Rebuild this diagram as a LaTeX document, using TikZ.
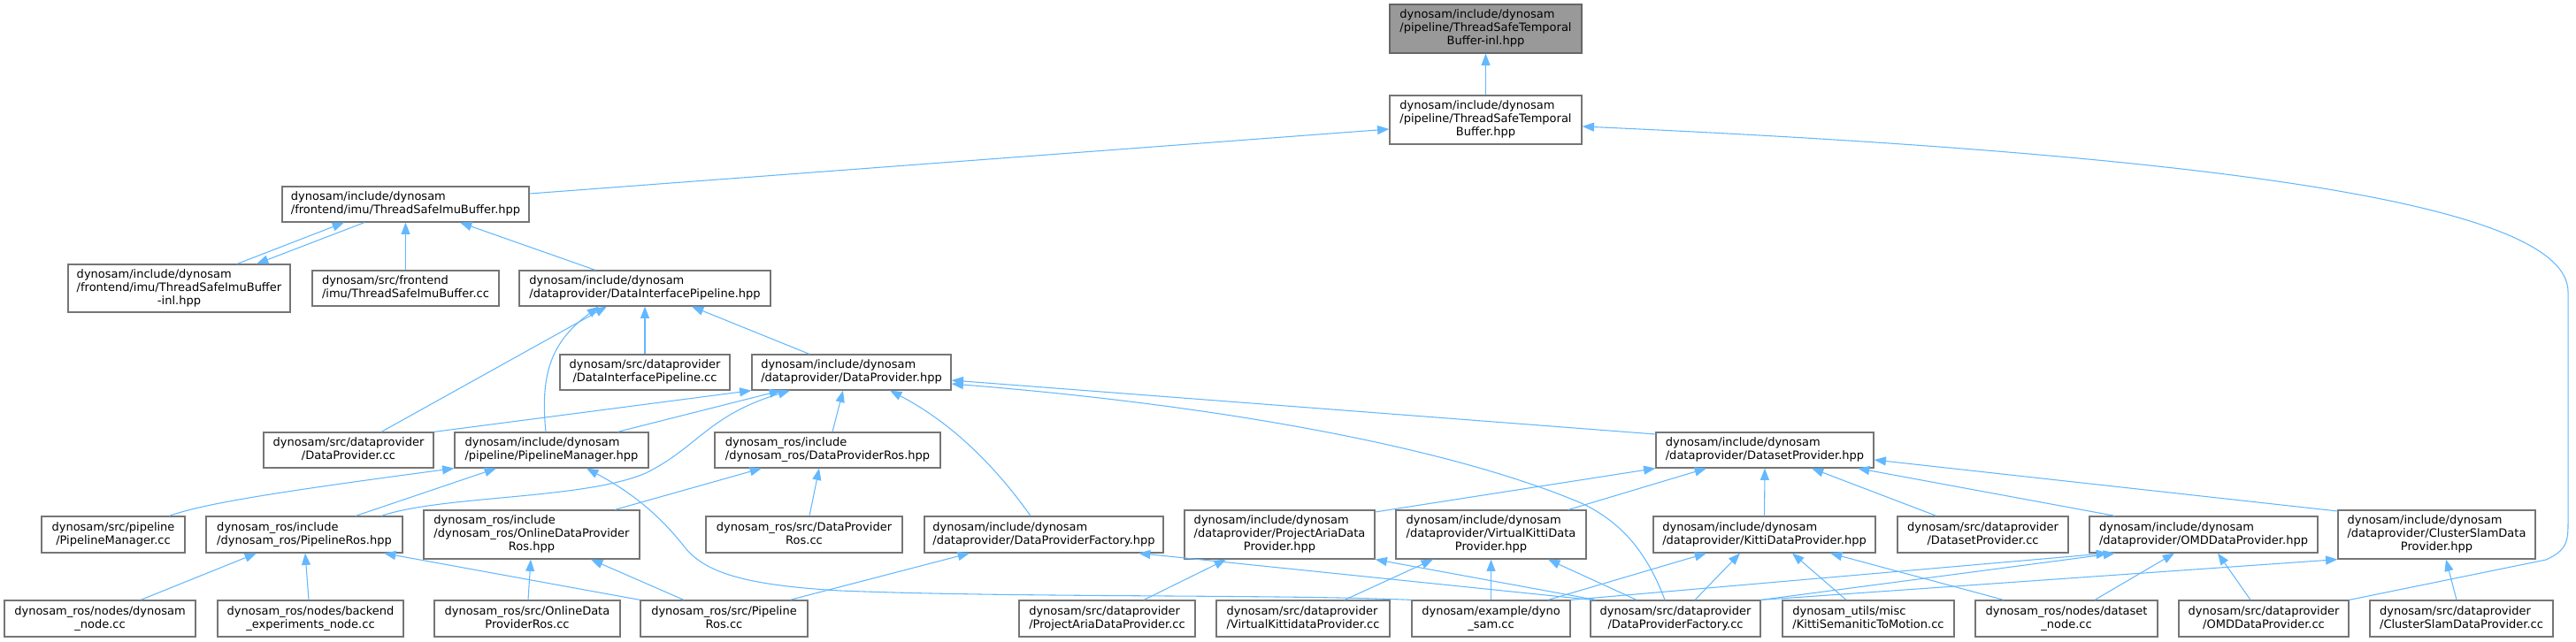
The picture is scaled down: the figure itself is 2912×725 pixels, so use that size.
\documentclass[tikz,border=0pt]{standalone}
\usepackage{fontspec}
\setmainfont{DejaVu Sans}
\usetikzlibrary{arrows.meta,calc}
\definecolor{edgeblue}{HTML}{63B8FF}
\definecolor{boxline}{HTML}{757575}
\definecolor{rootfill}{HTML}{999999}
\newcommand{\dlbl}[2]{\begin{tabular}{@{}l@{}}#1\\\multicolumn{1}{@{}c@{}}{#2}\end{tabular}}
\begin{document}
\begin{tikzpicture}[x=0.75pt,y=-0.75pt,
 box/.style={draw=boxline, line width=0.9pt, fill=white, inner sep=0pt, font=\fontsize{9.75}{11.25}\selectfont, text=black},
 fb/.style 2 args={box, minimum width=#1*0.75pt, minimum height=#2*0.75pt},
 edge/.style={draw=edgeblue, line width=0.8pt, -{Triangle[length=10pt,width=7.5pt]}}
]
\useasboundingbox (0,0) rectangle (2912,725);

% nodes
\node[fb={217}{55}, fill=rootfill, draw=black!60] (root) at (1679.5,32.5) {\dlbl{dynosam/include/dynosam\\/pipeline/ThreadSafeTemporal}{Buffer-inl.hpp}};
\node[fb={217}{55}] (tstb) at (1679.5,135.5) {\dlbl{dynosam/include/dynosam\\/pipeline/ThreadSafeTemporal}{Buffer.hpp}};
\node[fb={279}{40}] (tsib) at (458.5,231) {\dlbl{dynosam/include/dynosam}{/frontend/imu/ThreadSafeImuBuffer.hpp}};
\node[fb={251}{54}] (tsibinl) at (202.5,326) {\dlbl{dynosam/include/dynosam\\/frontend/imu/ThreadSafeImuBuffer}{-inl.hpp}};
\node[fb={211}{40}] (tsibcc) at (458.5,326) {\dlbl{dynosam/src/frontend}{/imu/ThreadSafeImuBuffer.cc}};
\node[fb={284}{40}] (diph) at (729,326) {\dlbl{dynosam/include/dynosam}{/dataprovider/DataInterfacePipeline.hpp}};
\node[fb={192}{40}] (dipcc) at (729,421) {\dlbl{dynosam/src/dataprovider}{/DataInterfacePipeline.cc}};
\node[fb={225}{40}] (dph) at (962.5,421) {\dlbl{dynosam/include/dynosam}{/dataprovider/DataProvider.hpp}};
\node[fb={192}{40}] (dpcc) at (394,509) {\dlbl{dynosam/src/dataprovider}{/DataProvider.cc}};
\node[fb={219}{40}] (pmh) at (623.5,509) {\dlbl{dynosam/include/dynosam}{/pipeline/PipelineManager.hpp}};
\node[fb={255}{40}] (dprosh) at (935.5,509) {\dlbl{dynosam\_ros/include}{/dynosam\_ros/DataProviderRos.hpp}};
\node[fb={246}{40}] (dseth) at (1995,509) {\dlbl{dynosam/include/dynosam}{/dataprovider/DatasetProvider.hpp}};

\node[fb={162}{41}] (pmcc) at (128,604.5) {\dlbl{dynosam/src/pipeline}{/PipelineManager.cc}};
\node[fb={222}{41}] (prosh) at (344,604.5) {\dlbl{dynosam\_ros/include}{/dynosam\_ros/PipelineRos.hpp}};
\node[fb={244}{55}] (odprosh) at (601,604.5) {\dlbl{dynosam\_ros/include\\/dynosam\_ros/OnlineDataProvider}{Ros.hpp}};
\node[fb={222}{41}] (dproscc) at (909,604.5) {\dlbl{dynosam\_ros/src/DataProvider}{Ros.cc}};
\node[fb={270}{41}] (dpfh) at (1180,604.5) {\dlbl{dynosam/include/dynosam}{/dataprovider/DataProviderFactory.hpp}};
\node[fb={215}{55}] (pah) at (1446.5,604.5) {\dlbl{dynosam/include/dynosam\\/dataprovider/ProjectAriaData}{Provider.hpp}};
\node[fb={215}{55}] (vkh) at (1685.5,604.5) {\dlbl{dynosam/include/dynosam\\/dataprovider/VirtualKittiData}{Provider.hpp}};
\node[fb={251}{41}] (kittih) at (1994.5,604.5) {\dlbl{dynosam/include/dynosam}{/dataprovider/KittiDataProvider.hpp}};
\node[fb={193}{41}] (dsetcc) at (2241.5,604.5) {\dlbl{dynosam/src/dataprovider}{/DatasetProvider.cc}};
\node[fb={258}{41}] (omdh) at (2491,604.5) {\dlbl{dynosam/include/dynosam}{/dataprovider/OMDDataProvider.hpp}};
\node[fb={223}{55}] (csh) at (2754.5,604.5) {\dlbl{dynosam/include/dynosam\\/dataprovider/ClusterSlamData}{Provider.hpp}};

\node[fb={216}{41}] (dnode) at (113,699.5) {\dlbl{dynosam\_ros/nodes/dynosam}{\_node.cc}};
\node[fb={210}{41}] (bnode) at (351,699.5) {\dlbl{dynosam\_ros/nodes/backend}{\_experiments\_node.cc}};
\node[fb={210}{41}] (odproscc) at (596,699.5) {\dlbl{dynosam\_ros/src/OnlineData}{ProviderRos.cc}};
\node[fb={189}{41}] (proscc) at (818.5,699.5) {\dlbl{dynosam\_ros/src/Pipeline}{Ros.cc}};
\node[fb={199}{41}] (pacc) at (1251.5,699.5) {\dlbl{dynosam/src/dataprovider}{/ProjectAriaDataProvider.cc}};
\node[fb={196}{41}] (vkcc) at (1473,699.5) {\dlbl{dynosam/src/dataprovider}{/VirtualKittidataProvider.cc}};
\node[fb={179}{41}] (dynosamcc) at (1685.5,699.5) {\dlbl{dynosam/example/dyno}{\_sam.cc}};
\node[fb={192}{41}] (dpfcc) at (1894,699.5) {\dlbl{dynosam/src/dataprovider}{/DataProviderFactory.cc}};
\node[fb={194}{41}] (kstm) at (2112,699.5) {\dlbl{dynosam\_utils/misc}{/KittiSemaniticToMotion.cc}};
\node[fb={206}{41}] (dsnode) at (2336,699.5) {\dlbl{dynosam\_ros/nodes/dataset}{\_node.cc}};
\node[fb={192}{41}] (omdcc) at (2559,699.5) {\dlbl{dynosam/src/dataprovider}{/OMDDataProvider.cc}};
\node[fb={207}{41}] (cscc) at (2782.5,699.5) {\dlbl{dynosam/src/dataprovider}{/ClusterSlamDataProvider.cc}};

% edges (includer -> included)
\draw[edge] (tstb.north) -- (root.south);
\draw[edge] ($(tsib.east)+(0,-12)$) -- ($(tstb.west)+(0,10.5)$);
\draw[edge] (omdcc.north east) -- (2878,633) .. controls (2903,622) and (2903,610) .. (2903,590) -- (2903,330) .. controls (2903,230) and (2500,175) .. ($(tstb.east)+(0,7.5)$);
\draw[edge] ($(tsibinl.north)+(65.5,0)$) -- ($(tsib.south)+(-69.5,0)$);
\draw[edge] ($(tsib.south)+(-46.5,0)$) -- ($(tsibinl.north)+(87.5,0)$);
\draw[edge] (tsibcc.north) -- (tsib.south);
\draw[edge] ($(diph.north)+(-56,0)$) -- ($(tsib.south)+(61.5,0)$);
\draw[edge] (dipcc.north) -- (diph.south);
\draw[edge] ($(dph.north)+(-47.5,0)$) -- ($(diph.south)+(53,0)$);
\draw[edge] ($(dpcc.north)+(37,0)$) -- ($(diph.south)+(-43,0)$);
\draw[edge] ($(pmh.north)+(-6.5,0)$) .. controls (610,420) and (625,385) .. ($(diph.south)+(-52,0)$);
\draw[edge] ($(prosh.north)+(87,0)$) .. controls (500,560) and (660,565) .. (730,535) .. controls (790,505) and (800,470) .. ($(dph.south)+(-69.5,0)$);
\draw[edge] ($(pmh.north)+(74.5,0)$) -- ($(dph.south)+(-79.5,0)$);
\draw[edge] (dpcc.north east) -- (dph.south west);
\draw[edge] ($(dprosh.north)+(5.5,0)$) -- ($(dph.south)+(-9.5,0)$);
\draw[edge] ($(dpfh.north)+(-15,0)$) .. controls (1120,520) and (1070,475) .. ($(dph.south)+(43.5,0)$);
\draw[edge] ($(dseth.west)+(0,-18)$) -- ($(dph.east)+(0,9)$);
\draw[edge] ($(dpfcc.north)+(-12,0)$) .. controls (1860,620) and (1830,590) .. (1790,570) .. controls (1650,510) and (1400,460) .. ($(dph.east)+(0,13)$);
\draw[edge] ($(pmcc.north)+(63,0)$) .. controls (230,570) and (300,558) .. (pmh.south west);
\draw[edge] ($(prosh.north)+(58,0)$) -- ($(pmh.south)+(-62.5,0)$);
\draw[edge] (dynosamcc.north west) .. controls (1450,672) and (1150,676) .. (950,668) .. controls (850,662) and (800,650) .. (775,620) .. controls (750,588) and (720,560) .. ($(pmh.south)+(39.5,0)$);
\draw[edge] ($(dnode.north)+(46,0)$) -- ($(prosh.south)+(-54,0)$);
\draw[edge] ($(bnode.north)+(-2,0)$) -- ($(prosh.south)+(1,0)$);
\draw[edge] (proscc.north west) -- ($(prosh.south)+(90,0)$);
\draw[edge] ($(proscc.north)+(74.5,0)$) -- ($(dpfh.south)+(-84,0)$);
\draw[edge] ($(odproscc.north)+(1,0)$) -- ($(odprosh.south)+(-1,0)$);
\draw[edge] ($(proscc.north)+(-45.5,0)$) -- ($(odprosh.south)+(67,0)$);
\draw[edge] ($(odprosh.north)+(94,0)$) -- ($(dprosh.south)+(-74.5,0)$);
\draw[edge] ($(dproscc.north)+(6,0)$) -- ($(dprosh.south)+(-9.5,0)$);
\draw[edge] ($(dpfcc.north)+(-94,0)$) -- ($(dpfh.south)+(107,0)$);
\draw[edge] ($(pacc.north)+(41.5,0)$) -- ($(pah.south)+(-60.5,0)$);
\draw[edge] ($(dpfcc.north)+(-90,0)$) -- (pah.south east);
\draw[edge] ($(vkcc.north)+(47,0)$) -- ($(vkh.south)+(-65.5,0)$);
\draw[edge] (dynosamcc.north) -- (vkh.south);
\draw[edge] ($(dpfcc.north)+(-44,0)$) -- ($(vkh.south)+(64.5,0)$);
\draw[edge] ($(pah.east)+(0,-25.5)$) -- (dseth.south west);
\draw[edge] ($(vkh.north)+(87.5,0)$) -- ($(dseth.south)+(-66,0)$);
\draw[edge] (kittih.north) -- (dseth.south);
\draw[edge] ($(dsetcc.north)+(-52.5,0)$) -- ($(dseth.south)+(53,0)$);
\draw[edge] ($(omdh.north)+(-100,0)$) -- ($(dseth.south)+(105,0)$);
\draw[edge] ($(csh.west)+(0,-26.5)$) -- ($(dseth.east)+(0,11)$);
\draw[edge] ($(dynosamcc.north)+(64.5,0)$) -- ($(kittih.south)+(-65.5,0)$);
\draw[edge] ($(dpfcc.north)+(22,0)$) -- ($(kittih.south)+(-27.5,0)$);
\draw[edge] ($(kstm.north)+(-25,0)$) -- ($(kittih.south)+(31.5,0)$);
\draw[edge] ($(dsnode.north)+(-71,0)$) -- ($(kittih.south)+(74.5,0)$);
\draw[edge] (dynosamcc.north east) -- ($(omdh.south)+(-108,0)$);
\draw[edge] (dpfcc.north east) -- ($(omdh.south)+(-100,0)$);
\draw[edge] (dpfcc.north east) -- (csh.south west);
\draw[edge] ($(dsnode.north)+(32,0)$) -- ($(omdh.south)+(-33,0)$);
\draw[edge] ($(omdcc.north)+(-15,0)$) -- ($(omdh.south)+(16,0)$);
\draw[edge] ($(cscc.north)+(-5.5,0)$) -- ($(csh.south)+(10.5,0)$);
\end{tikzpicture}
\end{document}
